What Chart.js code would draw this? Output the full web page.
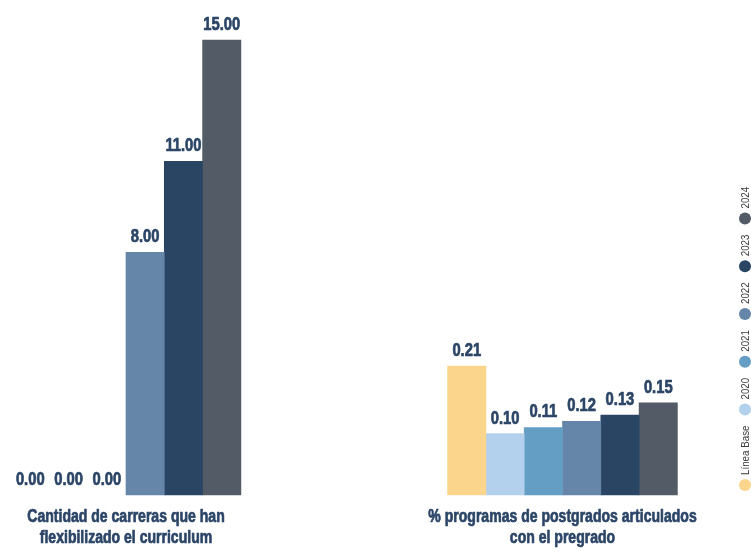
<!DOCTYPE html>
<html>
<head>
<meta charset="utf-8">
<script src="https://cdn.jsdelivr.net/npm/chart.js@4/dist/chart.umd.min.js"></script>
<style>
    html, body { margin: 0; padding: 0; background: #ffffff; }
    #wrap { width: 751px; height: 552px; position: relative; }
</style>
</head>
<body>
<div id="wrap"><canvas id="chart"></canvas></div>
<script>
const CATEGORIES = [
        ["Cantidad de carreras que han", "flexibilizado el curriculum"],
        ["% programas de postgrados articulados", "con el pregrado"],
    ],
    SERIES_NAMES = ["Línea Base", "2020", "2021", "2022", "2023", "2024"],
    SERIES_COLORS = ["#fbd58c", "#b3d1ec", "#659ec4", "#6586a8", "#294563", "#535b66"],
    CAREER_COUNTS = [0, 0, 0, 8, 11, 15],
    POSTGRAD_SHARES = [0.21, 0.10, 0.11, 0.12, 0.13, 0.15];

const LABEL_COLOR = "#2b4566",
    LEGEND_TEXT_COLOR = "#3a3a3a",
    FONT_FAMILY = "'Liberation Sans', Arial, sans-serif",
    NARROW = 0.82;

function createDataSets() {
    let datasets = [];
    for (let i = 0; i < SERIES_NAMES.length; i++) {
        datasets.push({
            label: SERIES_NAMES[i],
            backgroundColor: SERIES_COLORS[i],
            borderWidth: 0,
            yAxisID: "y",
            data: [CAREER_COUNTS[i], null],
        });
    }
    for (let i = 0; i < SERIES_NAMES.length; i++) {
        datasets.push({
            label: SERIES_NAMES[i],
            backgroundColor: SERIES_COLORS[i],
            borderWidth: 0,
            yAxisID: "y2",
            data: [null, POSTGRAD_SHARES[i]],
        });
    }
    return datasets;
}

// condensed heavy text: squeeze the normal face and thicken it a little
function narrowText(ctx, text, x, y, squeeze) {
    ctx.save();
    ctx.translate(x, y);
    ctx.scale(squeeze, 1);
    ctx.lineWidth = 0.7;
    ctx.strokeStyle = ctx.fillStyle;
    ctx.lineJoin = "round";
    ctx.strokeText(text, 0, 0);
    ctx.fillText(text, 0, 0);
    ctx.restore();
}

// value labels above every bar
const valueLabels = {
    id: "valueLabels",
    afterDatasetsDraw(chart) {
        const ctx = chart.ctx;
        ctx.save();
        ctx.font = "bold 18px " + FONT_FAMILY;
        ctx.fillStyle = LABEL_COLOR;
        ctx.textAlign = "center";
        ctx.textBaseline = "alphabetic";
        chart.data.datasets.forEach((ds, di) => {
            const meta = chart.getDatasetMeta(di);
            meta.data.forEach((bar, i) => {
                const v = ds.data[i];
                if (v === null) return;
                narrowText(ctx, v.toFixed(2), bar.x, bar.y - 10, NARROW);
            });
        });
        ctx.restore();
    },
};

// category names under each group
const categoryLabels = {
    id: "categoryLabels",
    afterDraw(chart) {
        const ctx = chart.ctx;
        const xScale = chart.scales.x;
        const base = chart.chartArea.bottom;
        ctx.save();
        ctx.font = "bold 18px " + FONT_FAMILY;
        ctx.fillStyle = LABEL_COLOR;
        ctx.textAlign = "center";
        ctx.textBaseline = "alphabetic";
        CATEGORIES.forEach((lines, i) => {
            const x = xScale.getPixelForTick(i);
            lines.forEach((line, j) => {
                narrowText(ctx, line, x, base + 27 + j * 21, 0.78);
            });
        });
        ctx.restore();
    },
};

// vertical legend with rotated text on the right edge
const sideLegend = {
    id: "sideLegend",
    afterDraw(chart) {
        const ctx = chart.ctx;
        const x = 745, r = 6, squeeze = 0.85;
        let y = 491;
        ctx.save();
        ctx.font = "11.5px " + FONT_FAMILY;
        for (let i = 0; i < SERIES_NAMES.length; i++) {
            ctx.fillStyle = SERIES_COLORS[i];
            ctx.beginPath();
            ctx.arc(x, y - r, r, 0, Math.PI * 2);
            ctx.fill();
            y -= 2 * r + 4;
            const w = ctx.measureText(SERIES_NAMES[i]).width * squeeze;
            ctx.save();
            ctx.translate(x + 4, y);
            ctx.rotate(-Math.PI / 2);
            ctx.scale(squeeze, 1);
            ctx.fillStyle = LEGEND_TEXT_COLOR;
            ctx.textAlign = "left";
            ctx.textBaseline = "alphabetic";
            ctx.fillText(SERIES_NAMES[i], 0, 0);
            ctx.restore();
            y -= w + 10;
        }
        ctx.restore();
    },
};

new Chart(document.getElementById("chart"), {
    type: "bar",
    data: {
        labels: CATEGORIES,
        datasets: createDataSets(),
    },
    plugins: [valueLabels, categoryLabels, sideLegend],
    options: {
        responsive: true,
        maintainAspectRatio: false,
        animation: false,
        skipNull: true,
        barThickness: 38.3,
        layout: {
            padding: { left: 126, right: 188.5, top: 40, bottom: 57 },
        },
        datasets: {
            bar: { clip: false },
        },
        elements: {
            bar: {
                // no hairline for zero-height bars
                inflateAmount: (c) => (c.raw === 0 ? 0 : "auto"),
            },
        },
        plugins: {
            legend: { display: false },
            tooltip: { enabled: false },
        },
        scales: {
            x: {
                display: false,
                offset: false,
            },
            y: {
                display: false,
                min: 0,
                max: 15,
            },
            y2: {
                display: false,
                min: 0,
                max: 0.741,
            },
        },
    },
});
</script>
</body>
</html>
